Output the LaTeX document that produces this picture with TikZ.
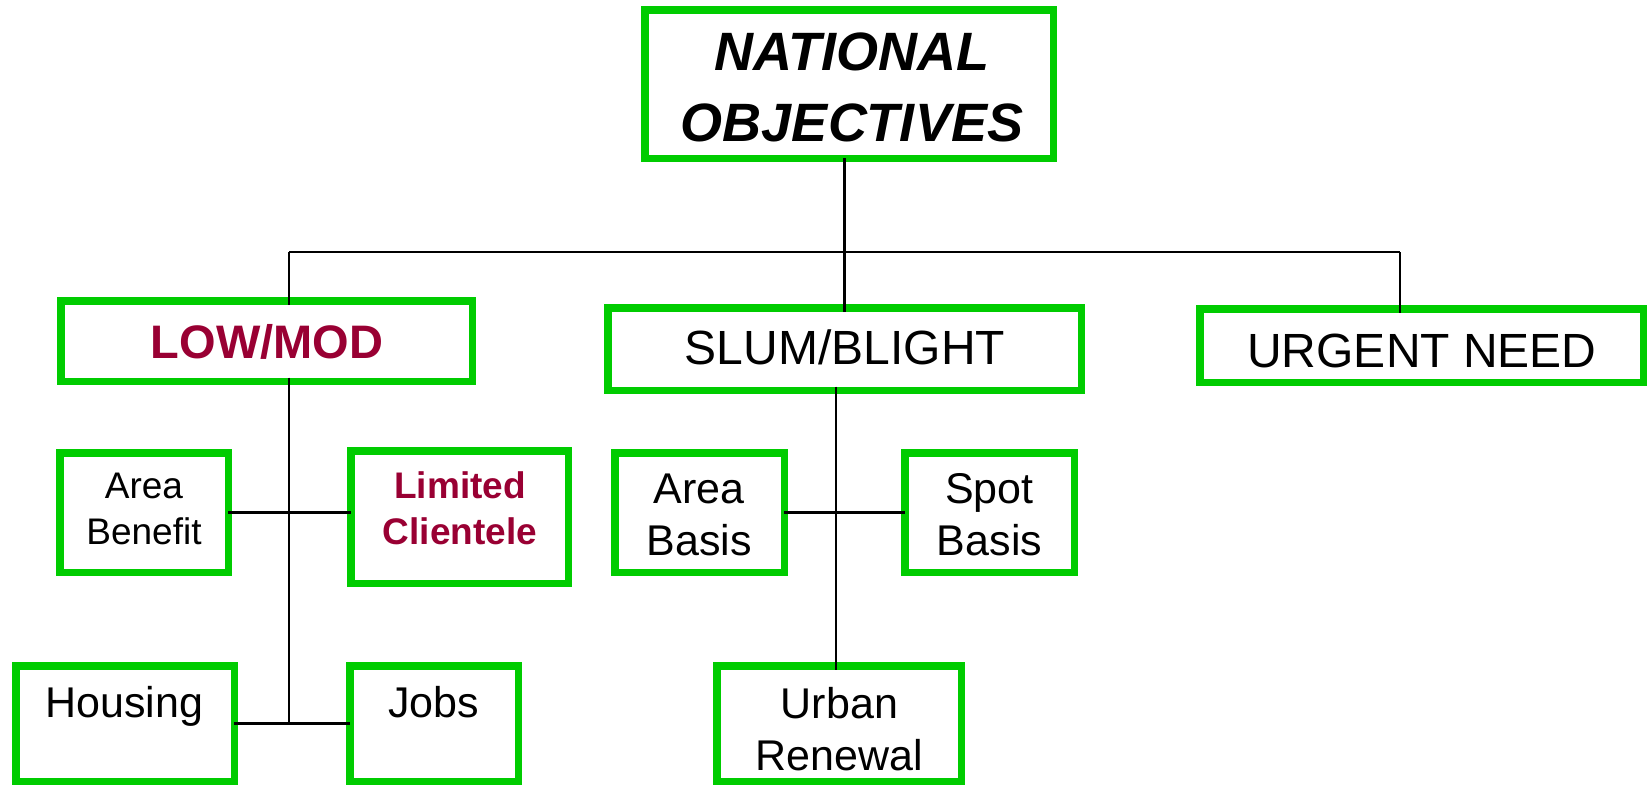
\documentclass[tikz,border=0pt]{standalone}
\usepackage{fontspec}
\setmainfont{Liberation Sans}
\definecolor{boxgreen}{HTML}{00CC00}
\definecolor{darkred}{HTML}{990033}
\begin{document}
\begin{tikzpicture}[x=1pt,y=-1pt,
  box/.style={draw=boxgreen, line width=7.5pt, fill=white, inner sep=0pt, outer sep=0pt, rectangle},
  txt/.style={inner sep=0pt, outer sep=0pt, align=center, text=black},
  conn/.style={draw=black, line width=2.5pt}]
\useasboundingbox[fill=white] (0,0) rectangle (1648,785);
% boxes
\node[box, minimum width=408.5pt, minimum height=148.5pt] (nat) at (849,84) {};
\node[box, minimum width=411.5pt, minimum height=80.5pt] (low) at (266.5,341) {};
\node[box, minimum width=473.5pt, minimum height=82.5pt] (slum) at (844.5,349) {};
\node[box, minimum width=443.5pt, minimum height=73.5pt] (urg) at (1421.5,345.5) {};
\node[box, minimum width=168.5pt, minimum height=119.5pt] (ab) at (144,512.5) {};
\node[box, minimum width=217.5pt, minimum height=132.5pt] (lc) at (459.5,517) {};
\node[box, minimum width=169.5pt, minimum height=119.5pt] (abs) at (699.5,512.5) {};
\node[box, minimum width=169.5pt, minimum height=119.5pt] (sb) at (989.5,512.5) {};
\node[box, minimum width=218.5pt, minimum height=115.5pt] (hous) at (125,723.5) {};
\node[box, minimum width=168.5pt, minimum height=115.5pt] (jobs) at (434,723.5) {};
\node[box, minimum width=244.5pt, minimum height=115.5pt] (ur) at (839,723.5) {};
% texts
\node[txt, anchor=north, font=\fontsize{54}{71}\selectfont\bfseries\itshape] (natt) at (852,33) {NATIONAL\\OBJECTIVES};
\node[txt, anchor=base, text=darkred, font=\fontsize{47}{56}\selectfont\bfseries] (lowt) at (267,358) {LOW/MOD};
\node[txt, anchor=base, font=\fontsize{48}{56}\selectfont] (slumt) at (845,364) {SLUM/BLIGHT};
\node[txt, anchor=base, font=\fontsize{48}{56}\selectfont] (urgt) at (1422,367) {URGENT NEED};
\node[txt, anchor=north, font=\fontsize{37}{46}\selectfont] (abt) at (144,473) {Area\\Benefit};
\node[txt, anchor=north, text=darkred, font=\fontsize{37}{46}\selectfont\bfseries] (lct) at (460,472) {Limited\\Clientele};
\node[txt, anchor=north, font=\fontsize{43}{52}\selectfont] (abst) at (699,474) {Area\\Basis};
\node[txt, anchor=north, font=\fontsize{43}{52}\selectfont] (sbt) at (989.5,473) {Spot\\Basis};
\node[txt, anchor=base, font=\fontsize{43}{52}\selectfont] (houst) at (124.5,717) {Housing};
\node[txt, anchor=base, font=\fontsize{43}{52}\selectfont] (jobst) at (433.5,717) {Jobs};
\node[txt, anchor=north, font=\fontsize{43}{52}\selectfont] (urt) at (839.5,687) {Urban\\Renewal};
% coordinates
\coordinate (busy) at (0,252);
\coordinate (lowx) at (289,0);
\coordinate (urgx) at (1400,0);
\coordinate (slumx) at (836,0);
% connectors
\draw[conn, shorten >=-3.75pt] (nat.south -| slum.north) -- (slum.north);
\draw[conn] (busy -| lowx) -- (busy -| urgx);
\draw[conn, shorten >=-3.75pt] (busy -| lowx) -- (low.north -| lowx);
\draw[conn, shorten >=-3.75pt] (busy -| urgx) -- (urg.north -| urgx);
\draw[conn, shorten <=-3.75pt] (low.south -| lowx) -- (hous.east -| lowx);
\draw[conn] (ab.east) -- (ab.east -| lc.west);
\draw[conn] (hous.east) -- (jobs.west);
\draw[conn] (abs.east) -- (sb.west);
\draw[conn, shorten <=-3.75pt, shorten >=-3.75pt] (slum.south -| slumx) -- (ur.north -| slumx);
\end{tikzpicture}
\end{document}
